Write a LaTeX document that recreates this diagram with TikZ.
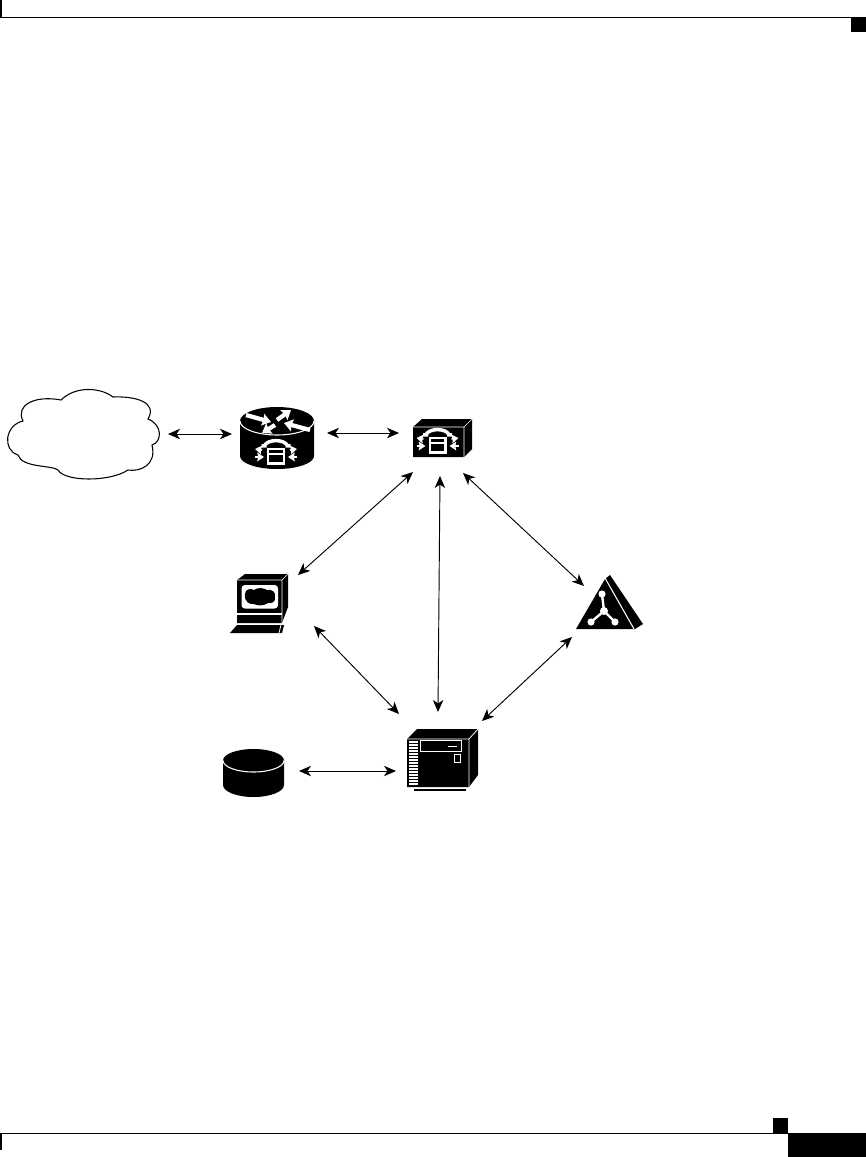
\documentclass[tikz,border=0pt]{standalone}
\usetikzlibrary{arrows.meta}
\tikzset{
  conn/.style={draw=black,line width=0.7pt,{Stealth[length=9pt,width=7.8pt,inset=2.6pt]}-{Stealth[length=9pt,width=7.8pt,inset=2.6pt]}},
  icon/.style={inner sep=0pt,outer sep=0pt,minimum width=#1*0.75pt},
  solid black/.style={fill=black,draw=none},
  wline/.style={draw=white,line width=0.8pt},
  warrow/.style={draw=white,line width=1.2pt,-{Stealth[length=5pt,width=6.5pt,inset=0.6pt]}},
  bigarrow/.style={draw=white,line width=3.2pt,-{Stealth[length=6.5pt,width=9pt,inset=0.8pt]}}
}
\newcommand{\phonesym}[2]{%
  \begin{scope}[shift={(#1,#2)}]
    \fill[white] (-9,-8.5) rectangle (9,8.5);
    \fill[black] (-6.8,-6.3) rectangle (6.8,-3.5);
    \fill[black] (-6.8,-1.5) rectangle (6.8,6.3);
    \draw[white,line width=2.6pt] (-11.5,-10.5) .. controls (-8,-17) and (8,-17) .. (11.5,-10.5);
    \fill[white] (-14.5,-12) rectangle (-9.5,-8.5) (14.5,-12) rectangle (9.5,-8.5);
    \draw[warrow] (-14,-6) -- (-21,-7);
    \draw[warrow] (14,-6) -- (21,-7);
    \draw[warrow] (-21,1) -- (-12,1);
    \draw[warrow] (21,1) -- (12,1);
  \end{scope}}
\begin{document}
\begin{tikzpicture}[x=0.75pt,y=-0.75pt]
\useasboundingbox (0,0) rectangle (866,1157);
\fill[white] (0,0) rectangle (866,1157);
% page furniture
\fill[black] (0,0) rectangle (2,17);
\fill[black] (0,16.5) rectangle (866,18);
\fill[black] (851,17) rectangle (866,32);
\fill[black] (773,1118) rectangle (788,1133);
\fill[black] (0,1133) rectangle (788,1134);
\fill[black] (0,1133) rectangle (2,1150);
\fill[black] (788,1133) rectangle (866,1157);

% anchors for icons (invisible boxes that carry the names)
\node[icon=150,minimum height=67.5pt] (cloud) at (83,433) {};
\node[icon=74,minimum height=46.5pt] (router) at (277,438) {};
\node[icon=59,minimum height=30pt] (pbx) at (442.5,444) {};
\node[icon=58,minimum height=44.25pt] (pc) at (259,604) {};
\node[icon=70,minimum height=40.5pt] (tri) at (610,602) {};
\node[icon=71,minimum height=46.5pt] (server) at (442.5,760) {};
\node[icon=62,minimum height=36pt] (db) at (253.5,773) {};

% cloud
\draw[black,line width=0.8pt,fill=white]
  (23,421) .. controls (15,405) and (35,395) .. (61,400)
  .. controls (75,386) and (100,387) .. (113,397)
  .. controls (135,396) and (158,402) .. (148,419)
  .. controls (163,425) and (162,442) .. (152,445)
  .. controls (157,465) and (140,472) .. (128,470)
  .. controls (110,482) and (65,482) .. (58,470)
  .. controls (52,465) and (22,468) .. (18,455)
  .. controls (2,450) and (5,425) .. (23,421) -- cycle;

% router
\path[solid black] (240,421) -- (240,456) arc[start angle=180,end angle=0,x radius=37,y radius=13] -- (314,421) arc[start angle=0,end angle=-180,x radius=37,y radius=14] -- cycle;
\draw[wline] (240,421) arc[start angle=180,end angle=0,x radius=37,y radius=14];
\draw[bigarrow] (246,415) -- (271,422);
\draw[bigarrow] (277,420) -- (291,410);
\draw[bigarrow] (310,430) -- (284,423);
\draw[bigarrow] (275,425) -- (262,433);
\phonesym{276}{456}

% pbx box
\path[solid black] (413,427) -- (422,419) -- (472,419) -- (472,449) -- (464,457) -- (413,457) -- cycle;
\draw[white,line width=0.5pt] (413,427) -- (464,427) -- (464,457) (464,427) -- (472,419);
\phonesym{437.5}{445}

% pc
\path[solid black] (237,580) -- (245,574) -- (288,574) -- (288,607) -- (282,623) -- (237,623) -- cycle;
\draw[white,line width=0.5pt] (237,580) -- (282,580) -- (282,623) (282,580) -- (288,574);
\draw[white,line width=0.8pt] (237,614) -- (282,614);
\fill[white,rounded corners=2.5pt] (241.5,585) rectangle (278,608.5);
\fill[black] (245,594) .. controls (245,589) and (251,588) .. (254,590)
  .. controls (258,587) and (264,588) .. (267,590)
  .. controls (272,589) and (276,592) .. (275,597)
  .. controls (276,602) and (271,604) .. (268,603)
  .. controls (264,606) and (257,606) .. (254,604)
  .. controls (250,605) and (244,602) .. (245,594) -- cycle;
\path[solid black] (237,625) -- (284,625) -- (282,633) -- (230,633) -- cycle;
\draw[white,line width=0.6pt] (281,625) -- (279,633);

% triangle
\path[solid black] (605,579) -- (610,575) -- (643,624) -- (635,629) -- (576,629) -- cycle;
\draw[white,line width=0.8pt] (605,578) -- (634,629);
\draw[white,line width=1.8pt] (602,594) -- (604,611) -- (591,622) (604,611) -- (615,622);
\fill[white] (602,594) circle[radius=3.6] (604,611) circle[radius=4] (591,622) circle[radius=3.6] (615,622) circle[radius=3.6];

% server
\path[solid black] (407,739) -- (417,729) -- (478,729) -- (478,775) -- (469,787) -- (407,787) -- cycle;
\draw[white,line width=0.6pt] (407,739) -- (469,739) -- (469,787) (469,739) -- (478,729);
\fill[white] (408.5,740.5) rectangle (418,785.5);
\foreach \yy in {742.5,745.5,...,784.5} {\fill[black] (408.5,\yy) rectangle (418,\yy+1.4);}
\draw[white,line width=0.7pt] (420,740.5) rectangle (461,751);
\draw[white,line width=0.7pt] (448,746) -- (457,746);
\draw[white,line width=0.7pt] (454.5,754.5) rectangle (460.5,762);
\fill[black] (414,788.5) rectangle (466,790.5);

% database
\path[solid black] (223,760.5) -- (223,785) arc[start angle=180,end angle=0,x radius=30.5,y radius=12] -- (284,760.5) arc[start angle=0,end angle=-180,x radius=30.5,y radius=11.5] -- cycle;
\draw[wline] (223,760.5) arc[start angle=180,end angle=0,x radius=30.5,y radius=11.5];

% connectors
\draw[conn] ([shift={(85,1)}]cloud.center) -- ([shift={(-45,-4)}]router.center);
\draw[conn] ([shift={(50,-5)}]router.center) -- ([shift={(-43.5,-11)}]pbx.center);
\draw[conn] ([shift={(-29.5,28)}]pbx.center) -- ([shift={(39,-29)}]pc.center);
\draw[conn] ([shift={(55,22)}]pc.center) -- ([shift={(-43.5,-46)}]server.center);
\draw[conn] ([shift={(-2.5,32)}]pbx.center) -- ([shift={(-4.5,-48)}]server.center);
\draw[conn] ([shift={(20.5,29)}]pbx.center) -- ([shift={(-26,-16)}]tri.center);
\draw[conn] ([shift={(-38,35)}]tri.center) -- ([shift={(39.5,-39)}]server.center);
\draw[conn] ([shift={(45.5,-2)}]db.center) -- ([shift={(-46.5,11)}]server.center);
\end{tikzpicture}
\end{document}
